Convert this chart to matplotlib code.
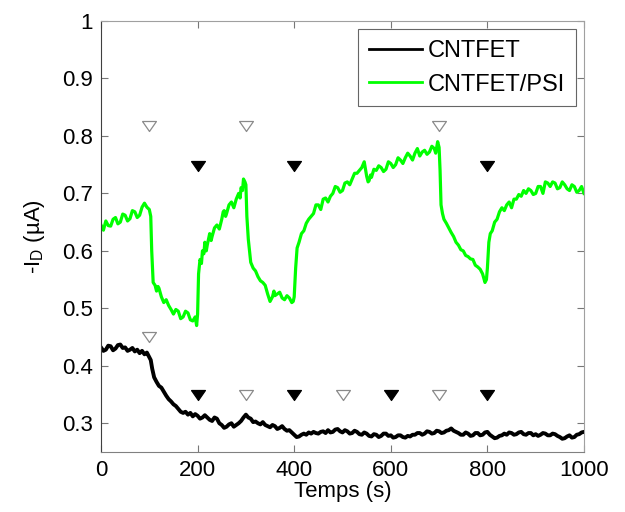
import matplotlib
matplotlib.use('Agg')
import matplotlib.pyplot as plt

plt.rcParams['font.family'] = ['Liberation Sans', 'DejaVu Sans']
plt.rcParams['mathtext.fontset'] = 'custom'
plt.rcParams['mathtext.rm'] = 'Liberation Sans'

# CNTFET/PSI trace (green)
t_psi = [0, 5, 10, 15, 20, 25, 30, 35, 40, 45, 50, 55, 60, 65, 70, 75, 80, 85, 90, 95, 100,
         103, 105, 108, 112, 115, 118, 120, 125, 130, 135, 140, 145, 150, 155, 160, 165, 170, 175,
         180, 185, 190, 195, 198, 200,
         202, 205, 208, 210, 213, 215, 218, 220, 225, 228, 230, 235, 240, 245, 250, 253, 255, 258,
         260, 265, 270, 275, 280, 285, 288, 290, 293, 295, 298, 300,
         302, 305, 308, 310, 315, 320, 325, 330, 335, 340, 345, 350, 355, 358, 360, 365, 370, 375,
         380, 385, 390, 395, 398, 400,
         403, 406, 410, 415, 420, 425, 430, 435, 440, 445, 450, 455, 460, 465, 470, 475, 480, 485,
         490, 495, 500, 505, 510, 515, 520, 525, 530, 535, 540, 545, 550, 553, 555, 558, 560, 565,
         570, 575, 580, 585, 590, 595, 600, 605, 610, 615, 620, 625, 630, 635, 640, 645, 650, 655,
         660, 665, 670, 675, 680, 685, 690, 693, 697, 700,
         702, 704, 707, 710, 715, 720, 725, 730, 735, 740, 745, 750, 755, 760, 765, 770, 775, 780,
         785, 790, 795, 798, 800,
         803, 806, 810, 815, 820, 825, 830, 835, 840, 845, 850, 855, 860, 865, 870, 875, 880, 885,
         890, 895, 900, 905, 910, 915, 920, 925, 930, 935, 940, 945, 950, 955, 960, 965, 970, 975,
         980, 985, 990, 995, 1000]
i_psi = [0.645, 0.636, 0.652, 0.644, 0.643, 0.655, 0.658, 0.647, 0.650, 0.664, 0.662, 0.652, 0.656,
         0.670, 0.668, 0.658, 0.662, 0.676, 0.683, 0.676, 0.672,
         0.66, 0.60, 0.545, 0.54, 0.53, 0.538, 0.535, 0.52, 0.51, 0.515, 0.505, 0.498, 0.49, 0.498,
         0.495, 0.482, 0.485, 0.495, 0.492, 0.48, 0.478, 0.485, 0.47, 0.49,
         0.56, 0.585, 0.578, 0.60, 0.595, 0.615, 0.60, 0.61, 0.63, 0.618, 0.625, 0.64, 0.645, 0.638,
         0.655, 0.668, 0.67, 0.66, 0.665, 0.68, 0.685, 0.675, 0.69, 0.70, 0.692, 0.71, 0.705, 0.725,
         0.72, 0.715,
         0.66, 0.62, 0.595, 0.58, 0.57, 0.565, 0.555, 0.548, 0.545, 0.54, 0.525, 0.512, 0.52, 0.53,
         0.522, 0.525, 0.528, 0.518, 0.515, 0.522, 0.518, 0.51, 0.512, 0.52,
         0.57, 0.605, 0.615, 0.63, 0.635, 0.648, 0.655, 0.66, 0.665, 0.68, 0.68, 0.672, 0.69, 0.692,
         0.685, 0.695, 0.70, 0.712, 0.71, 0.702, 0.705, 0.718, 0.72, 0.715, 0.725, 0.735, 0.735,
         0.74, 0.745, 0.755, 0.73, 0.72, 0.722, 0.732, 0.728, 0.742, 0.74, 0.748, 0.745, 0.738,
         0.742, 0.755, 0.752, 0.745, 0.75, 0.762, 0.758, 0.752, 0.762, 0.77, 0.765, 0.758, 0.77,
         0.778, 0.765, 0.772, 0.775, 0.768, 0.772, 0.782, 0.778, 0.77, 0.79, 0.78,
         0.74, 0.68, 0.665, 0.655, 0.648, 0.64, 0.632, 0.625, 0.615, 0.61, 0.602, 0.60, 0.592, 0.59,
         0.586, 0.585, 0.575, 0.572, 0.568, 0.56, 0.545, 0.55, 0.57,
         0.615, 0.63, 0.635, 0.65, 0.655, 0.668, 0.675, 0.67, 0.68, 0.685, 0.675, 0.69, 0.69, 0.698,
         0.695, 0.705, 0.70, 0.708, 0.705, 0.698, 0.70, 0.712, 0.712, 0.70, 0.72, 0.718, 0.712,
         0.72, 0.718, 0.708, 0.71, 0.72, 0.715, 0.708, 0.705, 0.715, 0.712, 0.702, 0.705, 0.712,
         0.70]

# CNTFET trace (black)
t_cnt = [0, 5, 10, 15, 20, 25, 30, 35, 40, 45, 50, 55, 60, 65, 70, 75, 80, 85, 90, 95, 98,
         103, 106, 110, 115, 120, 125, 130, 135, 140, 145, 150, 155, 160, 165, 170, 175, 180, 185,
         190, 195, 200, 205, 210, 215, 220, 225, 230, 235, 240, 245, 250, 255, 260, 265, 270, 275,
         280, 285, 290, 295, 300, 305, 310, 315, 320, 325, 330, 335, 340, 345, 350, 355, 360, 365,
         370, 375, 380, 385, 390, 395, 400, 405, 410, 415, 420, 425, 430, 435, 440, 445, 450, 455,
         460, 465, 470, 475, 480, 485, 490, 495, 500, 505, 510, 515, 520, 525, 530, 535, 540, 545,
         550, 555, 560, 565, 570, 575, 580, 585, 590, 595, 600, 605, 610, 615, 620, 625, 630, 635,
         640, 645, 650, 655, 660, 665, 670, 675, 680, 685, 690, 695, 700, 705, 710, 715, 720, 725,
         730, 735, 740, 745, 750, 755, 760, 765, 770, 775, 780, 785, 790, 795, 800, 805, 810, 815,
         820, 825, 830, 835, 840, 845, 850, 855, 860, 865, 870, 875, 880, 885, 890, 895, 900, 905,
         910, 915, 920, 925, 930, 935, 940, 945, 950, 955, 960, 965, 970, 975, 980, 985, 990, 995,
         1000]
i_cnt = [0.432, 0.426, 0.428, 0.435, 0.434, 0.427, 0.430, 0.436, 0.437, 0.431, 0.432, 0.426, 0.428,
         0.431, 0.425, 0.428, 0.422, 0.426, 0.420, 0.423, 0.418,
         0.41, 0.395, 0.38, 0.372, 0.365, 0.362, 0.355, 0.348, 0.342, 0.338, 0.333, 0.33, 0.325,
         0.32, 0.318, 0.32, 0.315, 0.318, 0.312, 0.316, 0.313, 0.308, 0.31, 0.314, 0.31, 0.306,
         0.304, 0.31, 0.308, 0.30, 0.297, 0.292, 0.294, 0.298, 0.30, 0.294, 0.297, 0.30, 0.304,
         0.31, 0.315, 0.31, 0.308, 0.302, 0.303, 0.30, 0.298, 0.302, 0.297, 0.295, 0.293, 0.297,
         0.295, 0.29, 0.292, 0.295, 0.29, 0.287, 0.288, 0.284, 0.28, 0.276, 0.277, 0.28, 0.282,
         0.28, 0.284, 0.282, 0.285, 0.283, 0.282, 0.285, 0.286, 0.283, 0.288, 0.284, 0.285, 0.289,
         0.29, 0.286, 0.284, 0.288, 0.286, 0.282, 0.283, 0.287, 0.285, 0.281, 0.28, 0.284, 0.282,
         0.278, 0.277, 0.281, 0.28, 0.276, 0.278, 0.282, 0.282, 0.278, 0.279, 0.275, 0.276, 0.279,
         0.279, 0.276, 0.275, 0.278, 0.277, 0.28, 0.28, 0.283, 0.283, 0.28, 0.282, 0.286, 0.285,
         0.282, 0.283, 0.287, 0.286, 0.283, 0.284, 0.287, 0.288, 0.291, 0.287, 0.285, 0.283, 0.28,
         0.28, 0.284, 0.282, 0.278, 0.279, 0.283, 0.283, 0.279, 0.28, 0.284, 0.285, 0.28, 0.277,
         0.274, 0.275, 0.278, 0.279, 0.282, 0.28, 0.284, 0.283, 0.28, 0.281, 0.284, 0.285, 0.281,
         0.28, 0.283, 0.283, 0.279, 0.281, 0.278, 0.28, 0.283, 0.282, 0.279, 0.279, 0.282, 0.281,
         0.278, 0.276, 0.273, 0.274, 0.277, 0.279, 0.275, 0.276, 0.28, 0.281, 0.284, 0.285]

# injection markers (open = one injection type, filled = the other)
psi_open_t = [100, 300, 700]
psi_open_y = [0.818, 0.818, 0.818]
psi_fill_t = [200, 400, 800]
psi_fill_y = [0.747, 0.747, 0.747]
cnt_open_t = [100, 300, 500, 700]
cnt_open_y = [0.45, 0.349, 0.349, 0.349]
cnt_fill_t = [200, 400, 600, 800]
cnt_fill_y = [0.349, 0.349, 0.349, 0.349]

# flattened down-pointing triangle
tri = [(-1, 0.72), (1, 0.72), (0, -0.72), (-1, 0.72)]

fig = plt.figure(figsize=(6.25, 5.12), dpi=100)
ax = fig.add_axes([0.1616, 0.1172, 0.7728, 0.8418])

ax.plot(t_cnt, i_cnt, color='black', lw=2.8, label='CNTFET')
ax.plot(t_psi, i_psi, color='#00ff00', lw=2.3, label='CNTFET/PSI')

for tx, ty in [(psi_open_t, psi_open_y), (cnt_open_t, cnt_open_y)]:
    ax.plot(tx, ty, marker=tri, ls='none', ms=10, mfc='white', mec='#8a8a8a', mew=0.9)
for tx, ty in [(psi_fill_t, psi_fill_y), (cnt_fill_t, cnt_fill_y)]:
    ax.plot(tx, ty, marker=tri, ls='none', ms=10, mfc='black', mec='black', mew=0.9)

ax.set_xlim(0, 1000)
ax.set_ylim(0.25, 1)
ax.set_xticks([0, 200, 400, 600, 800, 1000])
ax.set_yticks([0.3, 0.4, 0.5, 0.6, 0.7, 0.8, 0.9, 1])
ax.set_yticklabels(['0.3', '0.4', '0.5', '0.6', '0.7', '0.8', '0.9', '1'])
ax.tick_params(direction='in', top=True, right=True, labelsize=16, length=5,
               color='#777777', pad=6)
ax.spines['left'].set_color('#404040')
ax.spines['bottom'].set_color('#808080')
for s in ['top', 'right']:
    ax.spines[s].set_color('#a0a0a0')

ax.set_xlabel('Temps (s)', fontsize=16, labelpad=0)
ax.set_ylabel('-I$_\\mathregular{D}$ (\u00b5A)', fontsize=16, labelpad=11)

leg = ax.legend(loc='upper right', fontsize=17, fancybox=False, framealpha=1,
                edgecolor='#666666', handlelength=2.25, handletextpad=0.25,
                labelspacing=0.5, borderpad=0.45, borderaxespad=0.35)
leg.get_frame().set_linewidth(0.8)
for ln in leg.get_lines():
    ln.set_linewidth(2)

fig.savefig('out.png', dpi=100)
